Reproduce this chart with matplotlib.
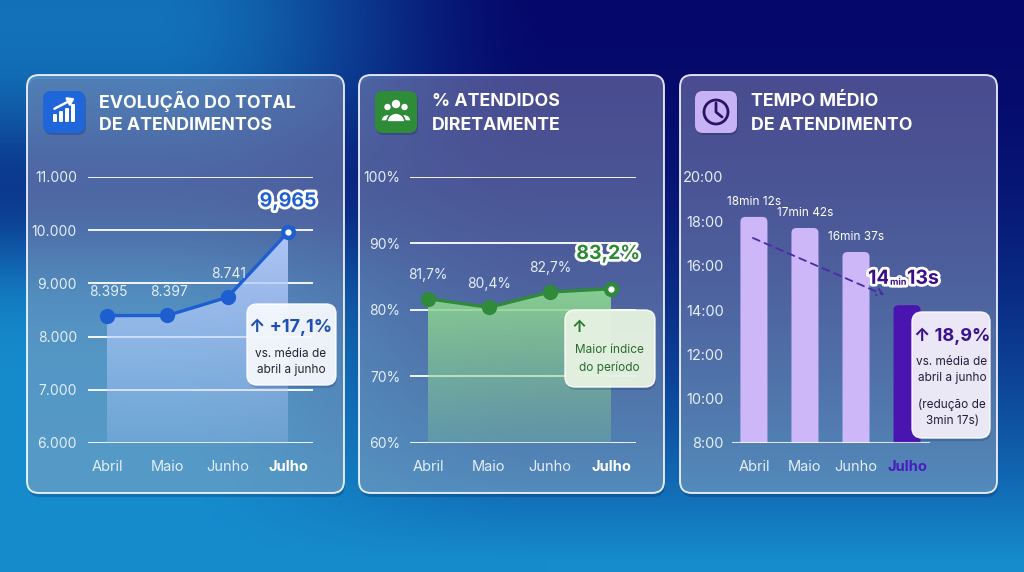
import numpy as np
import matplotlib
matplotlib.use("Agg")
import matplotlib.pyplot as plt
import matplotlib.patches as mpatches
import matplotlib.patheffects as pe

plt.rcParams["font.family"] = ["Inter", "DejaVu Sans"]

W, H = 1024, 572

meses = ["Abril", "Maio", "Junho", "Julho"]
atendimentos = [8395, 8397, 8741, 9965]
atend_ticks = [6000, 7000, 8000, 9000, 10000, 11000]
pct_diretos = [81.7, 80.4, 82.7, 83.2]
pct_ticks = [60, 70, 80, 90, 100]
tempo_seg = [18 * 60 + 12, 17 * 60 + 42, 16 * 60 + 37, 14 * 60 + 13]
tempo_ticks = [8, 10, 12, 14, 16, 18, 20]

TXT = "#e4eef9"


def fmt_mil(v):
    return f"{v:,}".replace(",", ".")


def fmt_pct(v):
    return f"{v:.1f}%".replace(".", ",")


fig = plt.figure(figsize=(W / 100, H / 100), dpi=100)

# background: cyan at the bottom, navy top right, darker band on the left
bg = fig.add_axes([0, 0, 1, 1], zorder=0)
bg.set_xlim(0, W)
bg.set_ylim(H, 0)
bg.axis("off")
yy, xx = np.mgrid[0:H, 0:W].astype(float)
t = np.clip((xx - 150) / 400, 0, 1)
s_x = t * t * (3 - 2 * t)
d_right = np.clip(1 - (yy / 560) ** 2, 0, 1)
d_left = 0.2 * np.clip(1 - yy / 300, 0, 1) + 0.55 * np.exp(-((yy - 190) / 90) ** 2)
d = np.clip(s_x * d_right + (1 - s_x) * d_left, 0, 1)[..., None]
cyan = np.array([22, 140, 205]) / 255
navy = np.array([5, 8, 106]) / 255
bg.imshow(cyan * (1 - d) + navy * d, extent=[0, W, H, 0], aspect="auto", zorder=0)

panels = [(27, 344), (359, 664), (680, 997)]
PY0, PY1 = 75, 493
for x0, x1 in panels:
    sh = mpatches.FancyBboxPatch((x0 + 1, PY0 + 4), x1 - x0, PY1 - PY0,
                                 boxstyle="round,pad=0,rounding_size=12",
                                 fc=(0, 0, 0.15, 0.18), ec="none", zorder=0.5)
    bg.add_patch(sh)
    box = mpatches.FancyBboxPatch((x0, PY0), x1 - x0, PY1 - PY0,
                                  boxstyle="round,pad=0,rounding_size=12",
                                  fc="none", ec="none", zorder=1)
    bg.add_patch(box)
    grad = np.zeros((100, 1, 4))
    s = np.linspace(0, 1, 100)[:, None]
    grad[:, 0, :3] = (np.array([200, 200, 235]) * (1 - s) + np.array([210, 230, 245]) * s) / 255
    grad[..., 3] = 0.36
    im = bg.imshow(grad, extent=[x0, x1, PY1, PY0], aspect="auto", zorder=1)
    im.set_clip_path(box)
    bg.add_patch(mpatches.FancyBboxPatch((x0, PY0), x1 - x0, PY1 - PY0,
                                         boxstyle="round,pad=0,rounding_size=12",
                                         fc="none", ec=(1, 1, 1, 0.85), lw=1.4, zorder=2))

# icons
def icon_box(x, color):
    bg.add_patch(mpatches.FancyBboxPatch((x + 1, 93), 42, 42, boxstyle="round,pad=0,rounding_size=8",
                                         fc=(0, 0, 0.2, 0.2), ec="none", zorder=2))
    bg.add_patch(mpatches.FancyBboxPatch((x, 91), 42, 42, boxstyle="round,pad=0,rounding_size=8",
                                         fc=color, ec="none", zorder=3))


icon_box(43, "#1e66d9")
for bx, top in zip([55, 61, 67, 73], [114, 111, 108, 104]):
    bg.add_patch(mpatches.FancyBboxPatch((bx - 2, top), 4, 122 - top, boxstyle="round,pad=0,rounding_size=1",
                                         fc="white", ec="none", zorder=4))
bg.annotate("", xy=(77, 97), xytext=(52, 110), zorder=4,
            arrowprops=dict(arrowstyle="-|>,head_length=0.35,head_width=0.25", color="white", lw=1.8,
                            connectionstyle="arc3,rad=0"))

icon_box(375, "#2e8c38")
bg.add_patch(mpatches.Circle((396, 104), 4.2, fc="white", ec="none", zorder=4))
bg.add_patch(mpatches.Circle((387.5, 107), 3.2, fc="white", ec="none", zorder=4))
bg.add_patch(mpatches.Circle((404.5, 107), 3.2, fc="white", ec="none", zorder=4))
bg.add_patch(mpatches.Wedge((387.5, 121), 6.5, 180, 360, fc="white", ec="#2e8c38", lw=1, zorder=4))
bg.add_patch(mpatches.Wedge((404.5, 121), 6.5, 180, 360, fc="white", ec="#2e8c38", lw=1, zorder=4))
bg.add_patch(mpatches.Wedge((396, 122), 9, 180, 360, fc="white", ec="#2e8c38", lw=1.2, zorder=5))

icon_box(695, "#c8b2f6")
bg.add_patch(mpatches.Circle((716, 112), 12, fc="none", ec="#2a1466", lw=2, zorder=4))
bg.plot([716, 716, 722], [103, 112, 117], color="#2a1466", lw=2, zorder=4, solid_capstyle="round")

titles = [(99, "EVOLUÇÃO DO TOTAL", "DE ATENDIMENTOS"),
          (432, "% ATENDIDOS", "DIRETAMENTE"),
          (751, "TEMPO MÉDIO", "DE ATENDIMENTO")]
for tx, l1, l2 in titles:
    bg.text(tx, 102, l1, color="white", fontsize=12.8, fontweight="bold", va="center", ha="left", zorder=4)
    bg.text(tx, 125, l2, color="white", fontsize=12.8, fontweight="bold", va="center", ha="left", zorder=4)


def chart_ax(px0, px1, pytop, pybot):
    ax = fig.add_axes([px0 / W, 1 - pybot / H, (px1 - px0) / W, (pybot - pytop) / H], zorder=2)
    ax.set_facecolor("none")
    for sp in ax.spines.values():
        sp.set_visible(False)
    ax.tick_params(length=0, colors=TXT, labelsize=10)
    return ax


def style_xticks(ax, julho_color, pad):
    ax.set_xticks(range(len(meses)))
    ax.set_xticklabels(meses, fontsize=10.5)
    ax.tick_params(axis="x", pad=pad)
    lab = ax.get_xticklabels()[-1]
    lab.set_fontweight("bold")
    lab.set_color(julho_color)


def gradient_fill(ax, x, vals, base, rgb, a_top, a_bot):
    verts = [(x[0], base)] + list(zip(x, vals)) + [(x[-1], base)]
    poly = mpatches.Polygon(verts, closed=True, transform=ax.transData)
    g = np.zeros((120, 1, 4))
    s = np.linspace(0, 1, 120)
    g[..., :3] = np.array(rgb) / 255
    g[:, 0, 3] = a_top * (1 - s) + a_bot * s
    im = ax.imshow(g, extent=[x[0], x[-1], base, max(vals)], aspect="auto", zorder=1)
    im.set_clip_path(poly)


halo = [pe.withStroke(linewidth=4, foreground="white")]

# ---- panel 1
ax1 = chart_ax(88, 313, 177, 443)
x = np.arange(len(meses))
gradient_fill(ax1, x, atendimentos, 6000, (180, 204, 252), 0.95, 0.25)
ax1.plot(x, atendimentos, color="#1d5fd1", lw=2.4, marker="o", ms=10, zorder=3)
ax1.plot(x[-1], atendimentos[-1], "o", color="white", ms=3.5, zorder=4)
ax1.set_xlim(-0.315, 3.414)
ax1.set_ylim(6000, 11000)
ax1.set_yticks(atend_ticks)
ax1.set_yticklabels([fmt_mil(v) for v in atend_ticks])
ax1.tick_params(axis="y", pad=8)
ax1.grid(axis="y", color=(1, 1, 1, 0.75), lw=1.3, zorder=0)
ax1.set_axisbelow(True)
style_xticks(ax1, "white", 12)
for i in range(3):
    ax1.annotate(fmt_mil(atendimentos[i]), (x[i], atendimentos[i]), xytext=(1, 17),
                 textcoords="offset points", ha="center", va="center", fontsize=10, color=TXT, zorder=5)
ax1.annotate(f"{atendimentos[-1]:,}", (x[-1], atendimentos[-1]), xytext=(0, 22),
             textcoords="offset points", ha="center", va="center", fontsize=14, fontweight="bold",
             color="#1d5fd1", path_effects=halo, zorder=5)

# ---- panel 2
ax2 = chart_ax(410, 636, 177, 443)
gradient_fill(ax2, x, pct_diretos, 60, (140, 212, 145), 0.95, 0.25)
ax2.plot(x, pct_diretos, color="#2f8a3a", lw=2.4, marker="o", ms=10, zorder=3)
ax2.plot(x[-1], pct_diretos[-1], "o", color="white", ms=3.5, zorder=4)
ax2.set_xlim(-0.295, 3.41)
ax2.set_ylim(60, 100)
ax2.set_yticks(pct_ticks)
ax2.set_yticklabels([f"{v}%" for v in pct_ticks])
ax2.tick_params(axis="y", pad=7)
ax2.grid(axis="y", color=(1, 1, 1, 0.75), lw=1.3, zorder=0)
ax2.set_axisbelow(True)
style_xticks(ax2, "white", 12)
for i in range(3):
    ax2.annotate(fmt_pct(pct_diretos[i]), (x[i], pct_diretos[i]), xytext=(0, 17),
                 textcoords="offset points", ha="center", va="center", fontsize=10, color=TXT, zorder=5)
ax2.annotate(fmt_pct(pct_diretos[-1]), (x[-1], pct_diretos[-1]), xytext=(-2, 25),
             textcoords="offset points", ha="center", va="center", fontsize=14, fontweight="bold",
             color="#2d8a34", path_effects=halo, zorder=5)

# ---- panel 3
ax3 = chart_ax(732, 930, 177, 443)
ax3.set_xlim(-0.43, 3.45)
ax3.set_ylim(8, 20)
ax3.set_yticks(tempo_ticks)
ax3.set_yticklabels([f"{v}:00" for v in tempo_ticks], fontsize=10.5)
ax3.tick_params(axis="y", pad=6)
ax3.axhline(8, color=(1, 1, 1, 0.8), lw=1.5, zorder=3)
style_xticks(ax3, "#4a1cc0", 12)
minutos = [s / 60 for s in tempo_seg]
bw = 27 / 51
px_x = 198 / (3.45 + 0.43)
px_y = 266 / 12
r = 5 / px_x
for i, m in enumerate(minutos):
    col = "#4a14b0" if i == len(minutos) - 1 else "#cdb7f8"
    ax3.add_patch(mpatches.FancyBboxPatch((i - bw / 2, 6.5), bw, m - 6.5,
                                          boxstyle=f"round,pad=0,rounding_size={r}",
                                          mutation_aspect=px_x / px_y, fc=col, ec="none", zorder=2))
for i in range(3):
    mm, ss = divmod(tempo_seg[i], 60)
    ax3.annotate(f"{mm}min {ss}s", (i, minutos[i]), xytext=(0, 11), textcoords="offset points",
                 ha="center", va="center", fontsize=8.5, color="white", zorder=5)
mm, ss = divmod(tempo_seg[-1], 60)
jx, jy = x[-1], minutos[-1]
big = dict(textcoords="offset points", va="center", fontsize=14, fontweight="bold", color="#3a108a",
           path_effects=halo, zorder=5, annotation_clip=False)
ax3.annotate(f"{mm}", (jx, jy), xytext=(-12.5, 19), ha="right", **big)
ax3.annotate(f"{ss}s", (jx, jy), xytext=(0, 19), ha="left", **big)
ax3.annotate("min", (jx, jy), xytext=(-6.2, 16.5), textcoords="offset points", ha="center", va="center",
             fontsize=6.5, fontweight="bold", color="#3a108a", path_effects=halo, zorder=5,
             annotation_clip=False)
ax3.annotate("", xy=(2.55, 14.68), xytext=(-0.02, 17.25), zorder=4,
             arrowprops=dict(arrowstyle="->,head_length=0.4,head_width=0.25", color="#4b2aa8", lw=1.3,
                             linestyle=(0, (4, 3)), shrinkA=0, shrinkB=0))

# ---- callouts (top layer)
top = fig.add_axes([0, 0, 1, 1], zorder=10)
top.set_xlim(0, W)
top.set_ylim(H, 0)
top.axis("off")


def callout(x0, y0, x1, y1, fc):
    top.add_patch(mpatches.FancyBboxPatch((x0 + 1, y0 + 3), x1 - x0, y1 - y0,
                                          boxstyle="round,pad=0,rounding_size=10",
                                          fc=(0.05, 0.1, 0.3, 0.18), ec="none"))
    top.add_patch(mpatches.FancyBboxPatch((x0, y0), x1 - x0, y1 - y0,
                                          boxstyle="round,pad=0,rounding_size=10",
                                          fc=fc, ec=(1, 1, 1, 0.9), lw=1))


callout(247, 304, 336, 385, (0.97, 0.98, 1.0, 0.95))
top.text(291, 327, "↑ +17,1%", ha="center", va="center", fontsize=13, fontweight="bold", color="#1d4fb5")
top.text(291, 354, "vs. média de", ha="center", va="center", fontsize=8.5, color="#1e2433")
top.text(291, 370, "abril a junho", ha="center", va="center", fontsize=8.5, color="#1e2433")

callout(565, 310, 655, 387, (0.91, 0.96, 0.89, 0.95))
top.text(579, 328, "↑", ha="center", va="center", fontsize=12, fontweight="bold", color="#2a7a2e")
top.text(609, 350, "Maior índice", ha="center", va="center", fontsize=8.5, color="#2a6a2e")
top.text(609, 368, "do período", ha="center", va="center", fontsize=8.5, color="#2a6a2e")

callout(912, 312, 990, 438, (0.96, 0.94, 0.99, 0.95))
top.text(952, 336, "↑ 18,9%", ha="center", va="center", fontsize=13, fontweight="bold", color="#3a1290")
top.text(952, 362, "vs. média de", ha="center", va="center", fontsize=8.5, color="#251c3a")
top.text(952, 378, "abril a junho", ha="center", va="center", fontsize=8.5, color="#251c3a")
top.text(952, 405, "(redução de", ha="center", va="center", fontsize=8.5, color="#251c3a")
top.text(952, 421, "3min 17s)", ha="center", va="center", fontsize=8.5, color="#251c3a")

fig.savefig("out.png", dpi=100)
